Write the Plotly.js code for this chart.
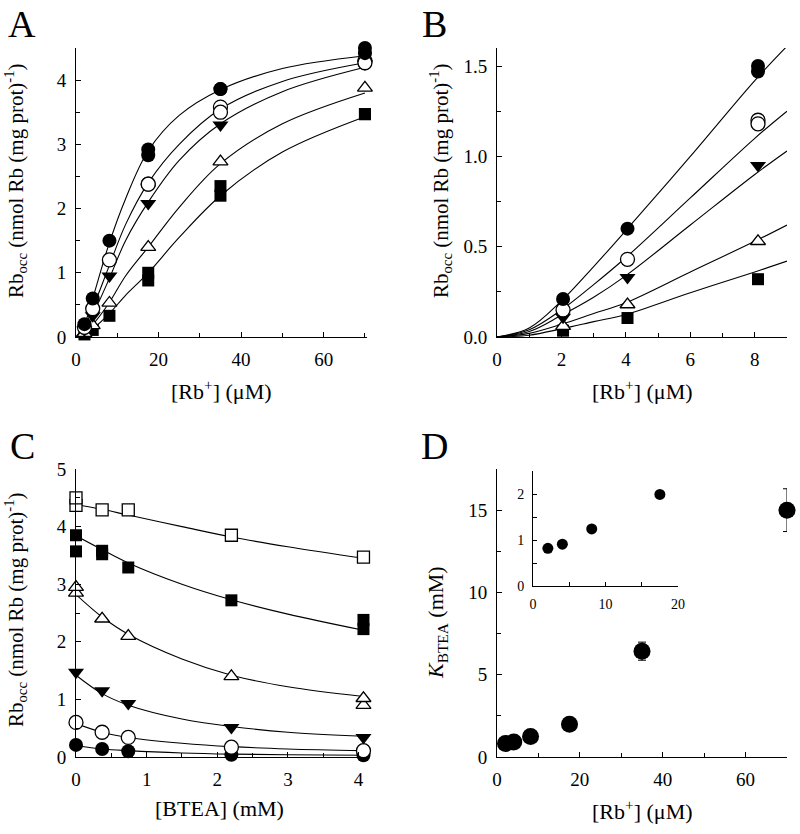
<!DOCTYPE html>
<html><head><meta charset="utf-8">
<script src="https://cdn.plot.ly/plotly-3.0.1.min.js"></script>
<style>html,body{margin:0;padding:0;background:#fff}#g{width:800px;height:834px}
.main-svg text{font-family:'Liberation Serif','Times New Roman',Times,serif !important}</style>
</head><body><div id="g"></div>
<script>
// ---------- Panel A: Rb_occ vs [Rb+] at several [BTEA] ----------
var rbA = [2.05, 4.05, 8.1, 17.5, 35, 70];
var rbA2 = [17.5, 35, 70]; // duplicate points
var aFilledCircle = [0.2, 0.6, 1.5, 2.92, 3.86, 4.5];
var aFilledCircle2 = [2.83, 3.86, 4.42];
var aOpenCircle = [0.15, 0.44, 1.2, 2.38, 3.58, 4.3];
var aOpenCircle2 = [2.38, 3.5, 4.27];
var aDownTri = [0.11, 0.33, 0.95, 2.08, 3.3, 4.25];
var aOpenTri = [0.06, 0.18, 0.53, 1.4, 2.73, 3.88];
var aFilledSq = [0.04, 0.11, 0.33, 1.0, 2.35, 3.47];
var aFilledSq2 = [0.88, 2.2, 3.47];
// fitted curves
var fitAx = [0, 2, 4, 8, 12, 17.5, 25, 35, 50, 70];
var fitAFilledCircle = [0, 0.19, 0.59, 1.45, 2.15, 2.9, 3.45, 3.85, 4.18, 4.38];
var fitAOpenCircle = [0, 0.15, 0.44, 1.1, 1.75, 2.4, 3.0, 3.55, 3.98, 4.27];
var fitADownTri = [0, 0.12, 0.34, 0.9, 1.5, 2.1, 2.75, 3.32, 3.82, 4.2];
var fitAOpenTri = [0, 0.07, 0.19, 0.53, 0.95, 1.4, 2.02, 2.7, 3.32, 3.8];
var fitAFilledSq = [0, 0.045, 0.125, 0.36, 0.65, 1.0, 1.55, 2.2, 2.88, 3.43];

// ---------- Panel B: low [Rb+] detail ----------
var rbB = [2.05, 4.05, 8.1];
var bFilledCircle = [0.21, 0.6, 1.5];
var bFilledCircle2 = [1.47];
var bOpenCircle = [0.15, 0.43, 1.2];
var bOpenCircle2 = [1.18];
var bDownTri = [0.11, 0.33, 0.95];
var bOpenTri = [0.06, 0.18, 0.53];
var bFilledSq = [0.035, 0.105, 0.32];
var fitBx = [0, 1, 2, 3, 4, 6, 8, 9];
var fitBFilledCircle = [0, 0.05, 0.2, 0.39, 0.59, 1.0, 1.42, 1.61];
var fitBOpenCircle = [0, 0.04, 0.15, 0.29, 0.44, 0.77, 1.1, 1.25];
var fitBDownTri = [0, 0.03, 0.12, 0.22, 0.34, 0.62, 0.9, 1.03];
var fitBOpenTri = [0, 0.02, 0.07, 0.13, 0.19, 0.36, 0.53, 0.62];
var fitBFilledSq = [0, 0.01, 0.045, 0.085, 0.125, 0.245, 0.36, 0.42];

// ---------- Panel C: Rb_occ vs [BTEA] ----------
var bteaC = [0, 0.37, 0.74, 2.2, 4.07];
var cOpenSq = [4.5, 4.29, 4.29, 3.85, 3.47];
var cOpenSq2 = [4.37];
var cFilledSq = [3.85, 3.58, 3.29, 2.72, 2.38];
var cFilledSqX2 = [0, 0.37, 4.07];
var cFilledSq2 = [3.57, 3.52, 2.22];
var cOpenTri = [2.95, 2.4, 2.1, 1.4, 1.02];
var cOpenTriX2 = [0, 4.07];
var cOpenTri2 = [2.85, 0.9];
var cDownTri = [1.47, 1.15, 0.93, 0.51, 0.34];
var cOpenCircle = [0.6, 0.43, 0.34, 0.17, 0.11];
var cFilledCircle = [0.21, 0.14, 0.1, 0.04, 0.03];
var fitCx = [0, 0.37, 0.74, 1.5, 2.2, 3, 4.07];
var fitCOpenSq = [4.38, 4.3, 4.2, 4.0, 3.82, 3.65, 3.45];
var fitCFilledSq = [3.84, 3.6, 3.37, 3.0, 2.73, 2.48, 2.2];
var fitCOpenTri = [2.82, 2.43, 2.13, 1.7, 1.42, 1.22, 1.05];
var fitCDownTri = [1.42, 1.1, 0.9, 0.66, 0.53, 0.43, 0.36];
var fitCOpenCircle = [0.58, 0.43, 0.34, 0.24, 0.18, 0.14, 0.11];
var fitCFilledCircle = [0.2, 0.14, 0.11, 0.07, 0.05, 0.04, 0.03];

// ---------- Panel D: K_BTEA vs [Rb+] ----------
var rbD = [2.05, 4.05, 8.1, 17.5, 35, 70];
var kBTEA = [0.82, 0.91, 1.24, 1.99, 6.43, 15.0];
var kErr = [0, 0, 0, 0, 0.55, 1.3];
var rbInset = [2.05, 4.05, 8.1, 17.5];
var kInset = [0.82, 0.91, 1.24, 1.99];

var FONT = '"Liberation Serif", "Times New Roman", Times, serif';
var K = '#000';
var traces = [];

function line(x, y, xa, ya) {
  return {x: x, y: y, xaxis: xa, yaxis: ya, mode: 'lines', type: 'scatter', cliponaxis: false,
    line: {color: K, width: 1.1, shape: 'spline', smoothing: 1}, hoverinfo: 'skip', showlegend: false};
}
function pts(x, y, xa, ya, sym, filled, size) {
  return {x: x, y: y, xaxis: xa, yaxis: ya, mode: 'markers', type: 'scatter', showlegend: false, cliponaxis: false,
    marker: {symbol: sym, size: size, color: filled ? K : '#fff', line: {color: K, width: filled ? 0 : 1.3}}};
}

// curves first
[fitAFilledCircle, fitAOpenCircle, fitADownTri, fitAOpenTri, fitAFilledSq].forEach(function (y) { traces.push(line(fitAx, y, 'x', 'y')); });
[fitBFilledCircle, fitBOpenCircle, fitBDownTri, fitBOpenTri, fitBFilledSq].forEach(function (y) { traces.push(line(fitBx, y, 'x2', 'y2')); });
[fitCOpenSq, fitCFilledSq, fitCOpenTri, fitCDownTri, fitCOpenCircle, fitCFilledCircle].forEach(function (y) { traces.push(line(fitCx, y, 'x3', 'y3')); });

// panel A markers
traces.push(pts(rbA, aFilledSq, 'x', 'y', 'square', true, 12));
traces.push(pts(rbA2, aFilledSq2, 'x', 'y', 'square', true, 12));
traces.push(pts(rbA, aOpenTri, 'x', 'y', 'triangle-up', false, 13));
traces.push(pts(rbA, aDownTri, 'x', 'y', 'triangle-down', true, 14));
traces.push(pts(rbA, aOpenCircle, 'x', 'y', 'circle', false, 14));
traces.push(pts(rbA2, aOpenCircle2, 'x', 'y', 'circle', false, 14));
traces.push(pts(rbA, aFilledCircle, 'x', 'y', 'circle', true, 14));
traces.push(pts(rbA2, aFilledCircle2, 'x', 'y', 'circle', true, 14));
// panel B markers
traces.push(pts(rbB, bFilledSq, 'x2', 'y2', 'square', true, 12));
traces.push(pts(rbB, bOpenTri, 'x2', 'y2', 'triangle-up', false, 13));
traces.push(pts(rbB, bDownTri, 'x2', 'y2', 'triangle-down', true, 14));
traces.push(pts(rbB, bOpenCircle, 'x2', 'y2', 'circle', false, 14));
traces.push(pts([8.1], bOpenCircle2, 'x2', 'y2', 'circle', false, 14));
traces.push(pts(rbB, bFilledCircle, 'x2', 'y2', 'circle', true, 14));
traces.push(pts([8.1], bFilledCircle2, 'x2', 'y2', 'circle', true, 14));
// panel C markers
traces.push(pts(bteaC, cFilledCircle, 'x3', 'y3', 'circle', true, 14));
traces.push(pts(bteaC, cOpenCircle, 'x3', 'y3', 'circle', false, 14));
traces.push(pts(bteaC, cDownTri, 'x3', 'y3', 'triangle-down', true, 14));
traces.push(pts(cOpenTriX2, cOpenTri2, 'x3', 'y3', 'triangle-up', false, 13));
traces.push(pts(bteaC, cOpenTri, 'x3', 'y3', 'triangle-up', false, 13));
traces.push(pts(cFilledSqX2, cFilledSq2, 'x3', 'y3', 'square', true, 12));
traces.push(pts(bteaC, cFilledSq, 'x3', 'y3', 'square', true, 12));
traces.push(pts([0], cOpenSq2, 'x3', 'y3', 'square', false, 12));
traces.push(pts(bteaC, cOpenSq, 'x3', 'y3', 'square', false, 12));
// panel D
var d = pts(rbD, kBTEA, 'x4', 'y4', 'circle', true, 17);
d.error_y = {type: 'data', array: kErr, visible: true, color: K, thickness: 1, width: 4};
traces.push(d);
traces.push(pts(rbInset, kInset, 'x5', 'y5', 'circle', true, 11));

function ax(domain, range, dtick, minor, anchor, fs, extra) {
  var a = {domain: domain, range: range, dtick: dtick, tick0: 0, anchor: anchor,
    showline: true, linecolor: K, linewidth: 1, mirror: false,
    ticks: 'inside', ticklen: 5, tickwidth: 1, tickcolor: K,
    minor: {dtick: minor, ticks: 'inside', ticklen: 4, tickwidth: 1, tickcolor: K, showgrid: false},
    showgrid: false, zeroline: false, fixedrange: true, ticklabelstandoff: 5,
    tickfont: {family: FONT, size: fs, color: K}};
  for (var k in extra) a[k] = extra[k];
  return a;
}
function px(v) { return v / 800; }
function py(v) { return 1 - v / 834; }

var xL = [px(76), px(367)], xR = [px(497), px(787)];
var yT = [py(337), py(48)], yB = [py(757), py(469)];

var layout = {
  width: 800, height: 834, margin: {l: 0, r: 0, t: 0, b: 0},
  paper_bgcolor: '#fff', plot_bgcolor: 'rgba(0,0,0,0)', showlegend: false,
  font: {family: FONT, color: K},
  xaxis: ax(xL, [0, 70.5], 20, 10, 'y', 19, {}),
  yaxis: ax(yT, [0, 4.5], 1, 0.5, 'x', 19, {}),
  xaxis2: ax(xR, [0, 9], 2, 1, 'y2', 19, {}),
  yaxis2: ax(yT, [0, 1.6], 0.5, 0.25, 'x2', 19, {tickformat: '.1f'}),
  xaxis3: ax(xL, [0, 4.12], 1, 0.5, 'y3', 19, {}),
  yaxis3: ax(yB, [0, 5], 1, 0.5, 'x3', 19, {}),
  xaxis4: ax(xR, [0, 70], 20, 10, 'y4', 19, {}),
  yaxis4: ax(yB, [0, 17.5], 5, 2.5, 'x4', 19, {}),
  xaxis5: ax([px(533), px(678)], [0, 20], 10, 5, 'y5', 14, {ticklen: 4}),
  yaxis5: ax([py(586), py(471)], [0, 2.5], 1, 0.5, 'x5', 14, {ticklen: 4}),
  annotations: []
};

function ann(text, x, y, size, angle) {
  layout.annotations.push({text: text, x: px(x), y: py(y), xref: 'paper', yref: 'paper',
    xanchor: 'center', yanchor: 'middle', showarrow: false, textangle: angle || 0,
    font: {family: FONT, size: size, color: K}});
}
ann('A', 22, 24, 38); ann('B', 435, 24, 38); ann('C', 22, 446, 38); ann('D', 435, 446, 38);
var rbTitle = '[Rb<sup>+</sup>] (\u03BCM)';
ann(rbTitle, 221, 390, 22); ann(rbTitle, 642, 390, 22);
ann('[BTEA] (mM)', 219, 808, 22); ann(rbTitle, 642, 810, 22);
var occ = 'Rb<sub>occ</sub> (nmol Rb (mg prot)<sup>-1</sup>)';
ann(occ, 15, 181, 21, -90); ann(occ, 440, 181, 21, -90); ann(occ, 15, 610, 21, -90);
ann('<i>K</i><sub>BTEA</sub> (mM)', 437, 623, 22, -90);

Plotly.newPlot('g', traces, layout, {staticPlot: true});
</script>
</body></html>
